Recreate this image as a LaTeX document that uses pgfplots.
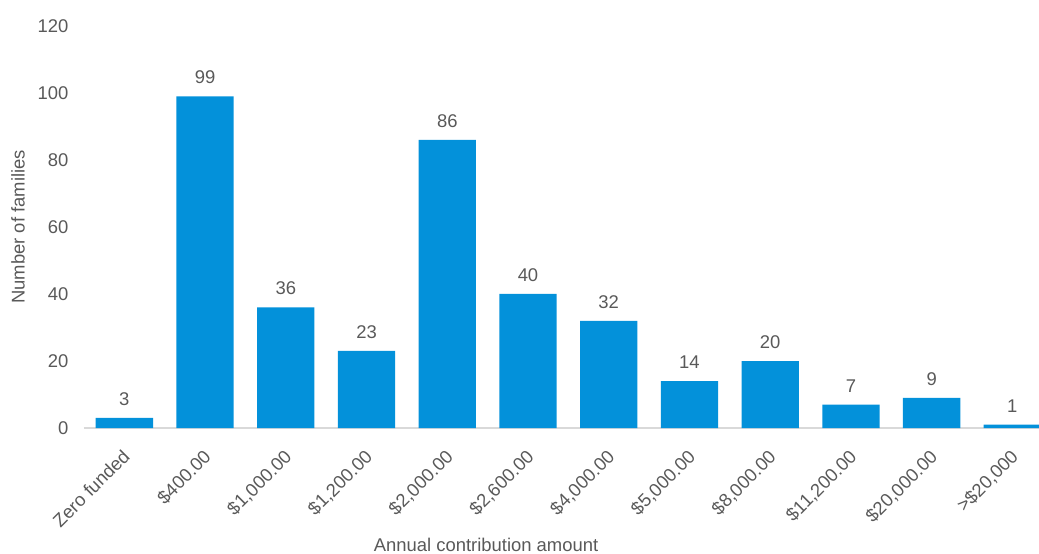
\documentclass[border=0pt]{standalone}
\usepackage{pgfplots}
\pgfplotsset{compat=1.18}
\usepackage{fontspec}
\setmainfont{Liberation Sans}
\definecolor{barblue}{HTML}{0391DA}
\definecolor{txtgray}{HTML}{595959}
\definecolor{axgray}{HTML}{D9D9D9}
\begin{document}
\begin{tikzpicture}
\useasboundingbox (-84bp,-126bp) rectangle (955bp,428bp);
\begin{axis}[
  scale only axis,
  width=955bp, height=402bp,
  xmin=-0.5, xmax=11.33,
  ymin=0, ymax=120,
  ytick={0,20,...,120},
  xtick={0,...,11},
  xticklabels={Zero funded,\$400.00,\$1{,}000.00,\$1{,}200.00,\$2{,}000.00,\$2{,}600.00,\$4{,}000.00,\$5{,}000.00,\$8{,}000.00,\$11{,}200.00,\$20{,}000.00,>\$20{,}000},
  axis y line*=left,
  axis x line*=bottom,
  x axis line style={draw=axgray, line width=1.5bp, -},
  y axis line style={draw=none, -},
  major tick length=0pt,
  clip=true,
  /pgf/number format/assume math mode=true,
  tick label style={font=\fontsize{18.5}{22}\selectfont, text=txtgray},
  yticklabel style={anchor=east, xshift=-12bp},
  ytick style={draw=none},
  xtick style={draw=none},
  xticklabel style={rotate=45, anchor=north east, xshift=-13bp, yshift=-9bp},
  ylabel={Number of families},
  xlabel={Annual contribution amount},
  label style={font=\fontsize{18.5}{22}\selectfont, text=txtgray},
  ylabel style={at={(axis description cs:-0.069,0.5)}, anchor=center, rotate=0},
  xlabel style={at={(axis description cs:0.421,-0.292)}, anchor=center},
  nodes near coords,
  every node near coord/.append style={font=\fontsize{18.5}{22}\selectfont, text=txtgray, yshift=9bp},
]
\addplot[ybar, bar width=57.3bp, fill=barblue, draw=none] coordinates {
(0,3) (1,99) (2,36) (3,23) (4,86) (5,40) (6,32) (7,14) (8,20) (9,7) (10,9) (11,1)
};
\end{axis}
\end{tikzpicture}
\end{document}
